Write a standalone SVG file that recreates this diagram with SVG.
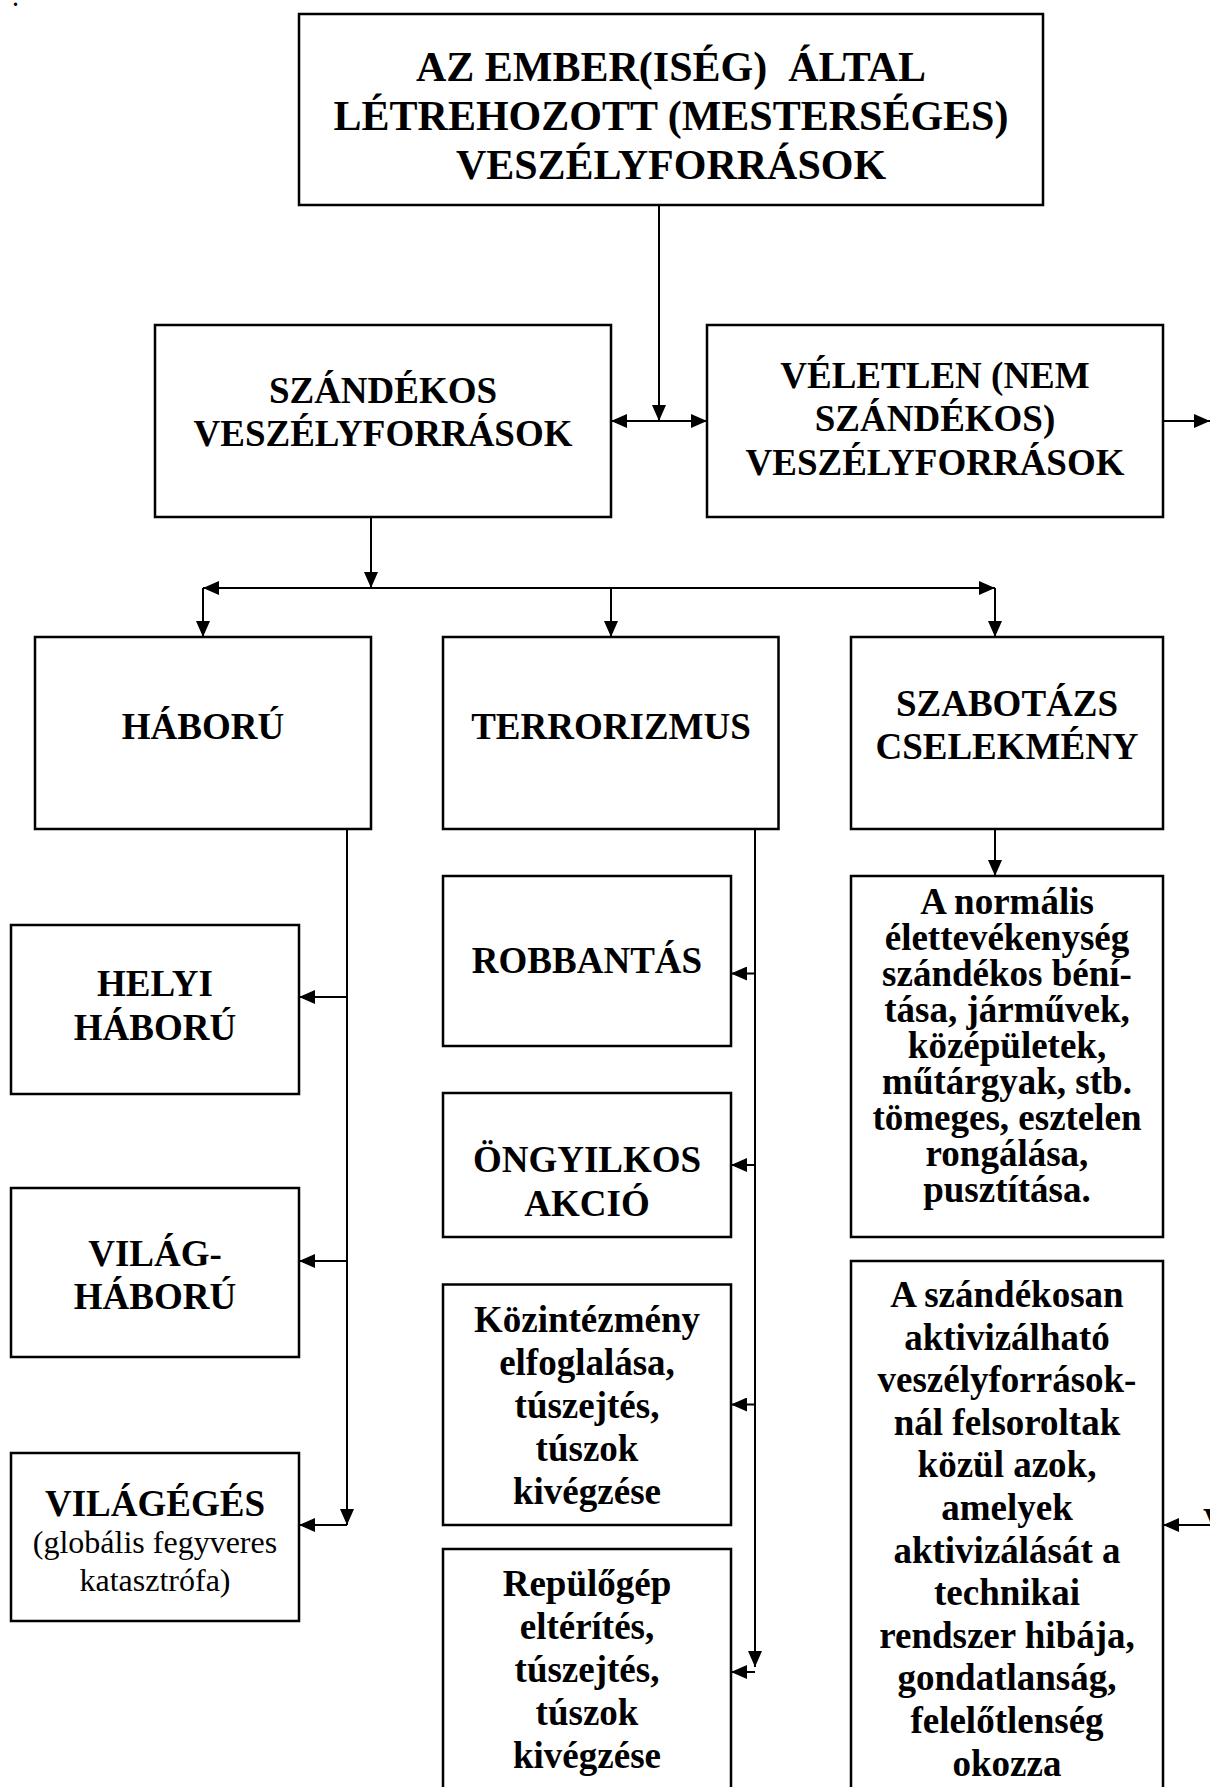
<svg xmlns="http://www.w3.org/2000/svg" width="1210" height="1787" viewBox="0 0 1210 1787">
<defs>
<style>
.box{fill:#fff;stroke:#000;stroke-width:2.5}
.t{font-family:"Liberation Serif","Times New Roman",serif;font-weight:bold;font-size:37px;text-anchor:middle;fill:#000}
.big{font-size:42px}
.r{font-weight:normal;font-size:32px}
.ln{stroke:#000;stroke-width:2;fill:none;marker-end:url(#ah)}
.dbl{marker-start:url(#ah)}
</style>
<marker id="ah" markerUnits="userSpaceOnUse" markerWidth="16" markerHeight="14" refX="16" refY="7" orient="auto-start-reverse">
<path d="M0,0 L16,7 L0,14 Z" fill="#000"/>
</marker>
</defs>
<rect width="1210" height="1787" fill="#fff"/>
<text class="t" x="13" y="6" style="font-size:20px;text-anchor:start">.</text>

<g id="connectors">
<path class="ln" d="M659,205 V421"/>
<path class="ln dbl" d="M611,421 H707"/>
<path class="ln" d="M1163,421 H1210"/>
<path class="ln" d="M371,517 V588"/>
<path class="ln dbl" d="M203,588 H995"/>
<path class="ln" d="M203,588 V637"/>
<path class="ln" d="M611,588 V637"/>
<path class="ln" d="M995,588 V637"/>
<path class="ln" d="M347,829 V1525"/>
<path class="ln" d="M347,997 H299"/>
<path class="ln" d="M347,1261 H299"/>
<path class="ln" d="M347,1525 H299"/>
<path class="ln" d="M755,829 V1667"/>
<path class="ln" d="M755,973.5 H731"/>
<path class="ln" d="M755,1165 H731"/>
<path class="ln" d="M755,1404.5 H731"/>
<path class="ln" d="M755,1672 H731"/>
<path class="ln" d="M995,829 V876"/>
<path class="ln" d="M1210,1525 H1163"/>
</g>

<g id="top">
<rect class="box" x="299" y="14" width="744" height="191"/>
<text class="t big" x="671" y="81" xml:space="preserve">AZ EMBER(ISÉG)  ÁLTAL</text>
<text class="t big" x="671" y="130">LÉTREHOZOTT (MESTERSÉGES)</text>
<text class="t big" x="671" y="179">VESZÉLYFORRÁSOK</text>
</g>

<g id="szandekos">
<rect class="box" x="155" y="325" width="456" height="192"/>
<text class="t" x="383" y="403">SZÁNDÉKOS</text>
<text class="t" x="383" y="446">VESZÉLYFORRÁSOK</text>
</g>

<g id="veletlen">
<rect class="box" x="707" y="325" width="456" height="192"/>
<text class="t" x="935" y="388">VÉLETLEN (NEM</text>
<text class="t" x="935" y="431">SZÁNDÉKOS)</text>
<text class="t" x="935" y="475">VESZÉLYFORRÁSOK</text>
</g>

<g id="haboru">
<rect class="box" x="35" y="637" width="336" height="192"/>
<text class="t" x="203" y="739">HÁBORÚ</text>
</g>

<g id="terrorizmus">
<rect class="box" x="443" y="637" width="335.5" height="192"/>
<text class="t" x="611" y="739">TERRORIZMUS</text>
</g>

<g id="szabotazs">
<rect class="box" x="851" y="637" width="312" height="192"/>
<text class="t" x="1007" y="716">SZABOTÁZS</text>
<text class="t" x="1007" y="759">CSELEKMÉNY</text>
</g>

<g id="helyi">
<rect class="box" x="11" y="925" width="288" height="169"/>
<text class="t" x="155" y="996">HELYI</text>
<text class="t" x="155" y="1040">HÁBORÚ</text>
</g>

<g id="vilaghaboru">
<rect class="box" x="11" y="1188" width="288" height="169"/>
<text class="t" x="155" y="1266">VILÁG-</text>
<text class="t" x="155" y="1309">HÁBORÚ</text>
</g>

<g id="vilageges">
<rect class="box" x="11" y="1453" width="288" height="168"/>
<text class="t" x="155" y="1516">VILÁGÉGÉS</text>
<text class="t r" x="155" y="1553">(globális fegyveres</text>
<text class="t r" x="155" y="1591">katasztrófa)</text>
</g>

<g id="robbantas">
<rect class="box" x="443" y="876" width="288" height="170"/>
<text class="t" x="587" y="973">ROBBANTÁS</text>
</g>

<g id="ongyilkos">
<rect class="box" x="443" y="1093" width="288" height="144"/>
<text class="t" x="587" y="1172">ÖNGYILKOS</text>
<text class="t" x="587" y="1216">AKCIÓ</text>
</g>

<g id="kozintezmeny">
<rect class="box" x="443" y="1284.5" width="288" height="240.5"/>
<text class="t" x="587" y="1332">Közintézmény</text>
<text class="t" x="587" y="1375">elfoglalása,</text>
<text class="t" x="587" y="1418">túszejtés,</text>
<text class="t" x="587" y="1461">túszok</text>
<text class="t" x="587" y="1504">kivégzése</text>
</g>

<g id="repulogep">
<rect class="box" x="443" y="1549" width="288" height="260"/>
<text class="t" x="587" y="1596">Repülőgép</text>
<text class="t" x="587" y="1639">eltérítés,</text>
<text class="t" x="587" y="1682">túszejtés,</text>
<text class="t" x="587" y="1725">túszok</text>
<text class="t" x="587" y="1768">kivégzése</text>
</g>

<g id="normalis">
<rect class="box" x="851" y="876" width="312" height="361"/>
<text class="t" x="1007" y="914">A normális</text>
<text class="t" x="1007" y="950">élettevékenység</text>
<text class="t" x="1007" y="986">szándékos béní-</text>
<text class="t" x="1007" y="1022">tása, járművek,</text>
<text class="t" x="1007" y="1058">középületek,</text>
<text class="t" x="1007" y="1094">műtárgyak, stb.</text>
<text class="t" x="1007" y="1130">tömeges, esztelen</text>
<text class="t" x="1007" y="1166">rongálása,</text>
<text class="t" x="1007" y="1202">pusztítása.</text>
</g>

<g id="szandekosan">
<rect class="box" x="851" y="1261" width="312" height="560"/>
<text class="t" x="1007" y="1307">A szándékosan</text>
<text class="t" x="1007" y="1349.6">aktivizálható</text>
<text class="t" x="1007" y="1392.2">veszélyforrások-</text>
<text class="t" x="1007" y="1434.8">nál felsoroltak</text>
<text class="t" x="1007" y="1477.4">közül azok,</text>
<text class="t" x="1007" y="1520">amelyek</text>
<text class="t" x="1007" y="1562.6">aktivizálását a</text>
<text class="t" x="1007" y="1605.2">technikai</text>
<text class="t" x="1007" y="1647.8">rendszer hibája,</text>
<text class="t" x="1007" y="1690.4">gondatlanság,</text>
<text class="t" x="1007" y="1733">felelőtlenség</text>
<text class="t" x="1007" y="1775.6">okozza</text>
</g>

<text class="t" x="1203" y="1534" style="text-anchor:start">V</text>
</svg>
